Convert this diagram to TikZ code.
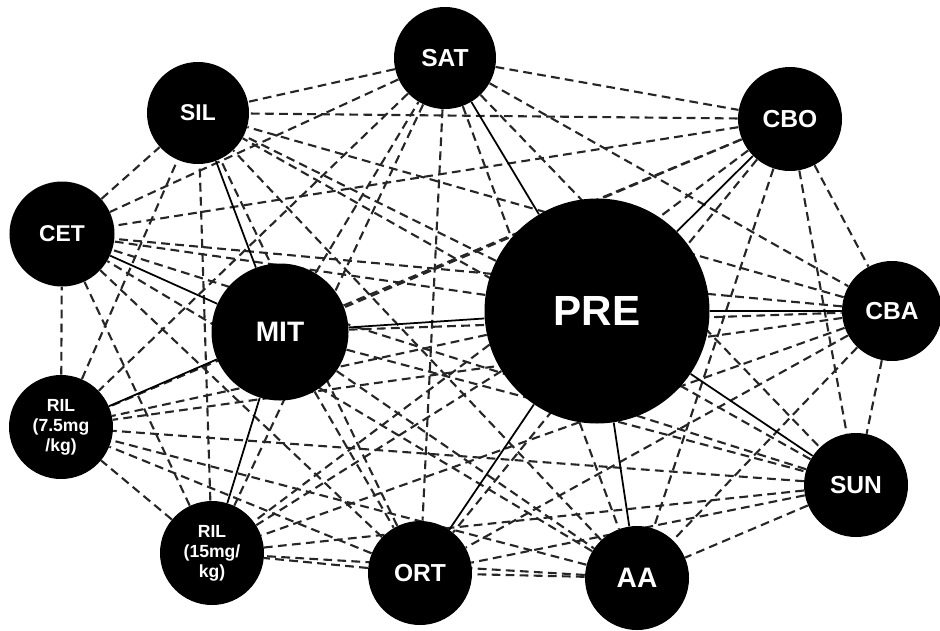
\documentclass[tikz,border=0pt]{standalone}
\usepackage{fontspec}
\setmainfont{Liberation Sans}
\usetikzlibrary{backgrounds}

\begin{document}
\begin{tikzpicture}[x=0.2mm,y=-0.2mm,
    drug/.style={circle, fill=black, text=white, inner sep=0pt, align=center,
      font=\bfseries\fontsize{14}{16}\selectfont, minimum size=20.8mm},
    dashedge/.style={line width=1.2pt, black!85, dash pattern=on 5pt off 3pt},
    solidedge/.style={line width=1pt}]
  \useasboundingbox (0,0) rectangle (940,630);
  \node[drug, minimum size=45mm, font=\bfseries\fontsize{24}{26}\selectfont] (pre) at (597,311) {PRE};
  \node[drug, minimum size=27.4mm, font=\bfseries\fontsize{16}{18}\selectfont] (mit) at (280,332) {MIT};
  \node[drug, minimum size=20.4mm] (sat) at (445,58) {SAT};
  \node[drug, minimum size=20.4mm, font=\bfseries\fontsize{13}{15}\selectfont] (sil) at (198,113) {SIL};
  \node[drug, minimum size=21mm, font=\bfseries\fontsize{13}{15}\selectfont] (cet) at (62,234) {CET};
  \node[drug] (cbo) at (790,119) {CBO};
  \node[drug, minimum size=20mm] (cba) at (892,311) {CBA};
  \node[drug] (sun) at (856,485) {SUN};
  \node[drug, font=\bfseries\fontsize{16}{18}\selectfont] (aa) at (637,578) {AA};
  \node[drug] (ort) at (420,573) {ORT};
  \node[drug, font=\bfseries\fontsize{10}{11.3}\selectfont] (rilb) at (212,553) {RIL\\(15mg/\\kg)};
  \node[drug, font=\bfseries\fontsize{10}{11.3}\selectfont] (rila) at (61,427) {RIL\\(7.5mg\\/kg)};
  \begin{pgfonlayer}{background}
    \foreach \a [count=\i] in {sat,cbo,cba,sun,aa,ort,rilb,rila,cet,sil}
      \foreach \b [count=\j] in {sat,cbo,cba,sun,aa,ort,rilb,rila,cet,sil}
        {\ifnum\j>\i \draw[dashedge] (\a) -- (\b); \fi}
    \foreach \b in {sat,cbo,cba,sun,aa,ort}
      \draw[dashedge] (mit) -- (\b);
    \foreach \b in {sil,cet,rila,rilb}
      \draw[dashedge] (pre) -- (\b);
    \foreach \b in {sil,cet,rila,rilb,pre}
      \draw[solidedge] (mit) -- (\b);
    \foreach \b in {sat,cbo,cba,sun,aa,ort}
      \draw[solidedge] (pre) -- (\b);
  \end{pgfonlayer}
\end{tikzpicture}
\end{document}
